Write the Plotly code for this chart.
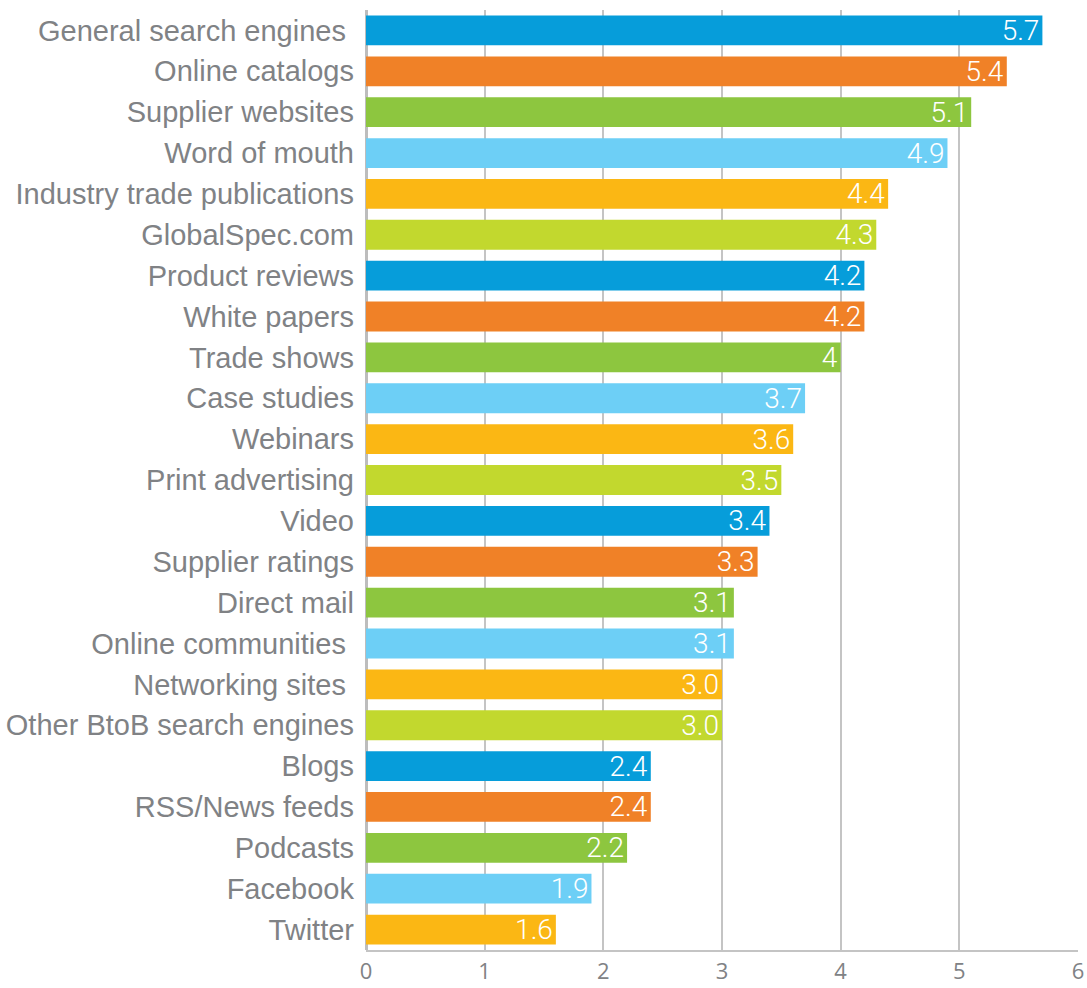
import plotly.graph_objects as go

# Sources ranked by usefulness (top to bottom)
categories = [
    "General search engines\u00a0", "Online catalogs", "Supplier websites", "Word of mouth",
    "Industry trade publications", "GlobalSpec.com", "Product reviews", "White papers",
    "Trade shows", "Case studies", "Webinars", "Print advertising", "Video",
    "Supplier ratings", "Direct mail", "Online communities\u00a0", "Networking sites\u00a0",
    "Other BtoB search engines", "Blogs", "RSS/News feeds", "Podcasts", "Facebook", "Twitter",
]
values = [5.7, 5.4, 5.1, 4.9, 4.4, 4.3, 4.2, 4.2, 4.0, 3.7, 3.6, 3.5, 3.4,
          3.3, 3.1, 3.1, 3.0, 3.0, 2.4, 2.4, 2.2, 1.9, 1.6]
value_labels = ["5.7", "5.4", "5.1", "4.9", "4.4", "4.3", "4.2", "4.2", "4", "3.7",
                "3.6", "3.5", "3.4", "3.3", "3.1", "3.1", "3.0", "3.0", "2.4", "2.4",
                "2.2", "1.9", "1.6"]
palette = ["#069dda", "#f08127", "#8dc63f", "#6dcff6", "#fbb714", "#c2d82e"]
x_ticks = [0, 1, 2, 3, 4, 5, 6]

colors = [palette[i % len(palette)] for i in range(len(categories))]

fig = go.Figure(go.Bar(
    x=values,
    y=categories,
    orientation="h",
    marker=dict(color=colors, line=dict(width=0)),
    width=0.73,
    text=value_labels,
    textposition="inside",
    insidetextanchor="end",
    textangle=0,
    constraintext="none",
    textfont=dict(family="Roboto", size=28, color="white", weight=300),
    cliponaxis=False,
))

fig.update_layout(
    width=1087, height=988,
    margin=dict(l=366, r=9, t=10, b=38),
    paper_bgcolor="white", plot_bgcolor="white",
    showlegend=False,
    bargap=0.27,
    uniformtext=dict(mode=False),
)
fig.update_xaxes(
    range=[0, 6], tickvals=x_ticks, ticktext=[str(t) for t in x_ticks],
    showgrid=True, gridcolor="#c4c4c4", gridwidth=2,
    zeroline=True, zerolinecolor="#bdbdbd", zerolinewidth=3,
    showline=True, linecolor="#c4c4c4", linewidth=2,
    ticks="", ticklabelstandoff=1,
    ticklabeloverflow="allow",
    tickfont=dict(family="Open Sans", size=22, color="#808285"),
    automargin=False,
    fixedrange=True,
)
fig.update_yaxes(
    autorange="reversed",
    showgrid=False, showline=False, ticks="",
    ticklabelstandoff=11,
    tickfont=dict(family="Liberation Sans", size=29, color="#808285"),
    automargin=False,
    fixedrange=True,
)

fig.write_html("out.html")
